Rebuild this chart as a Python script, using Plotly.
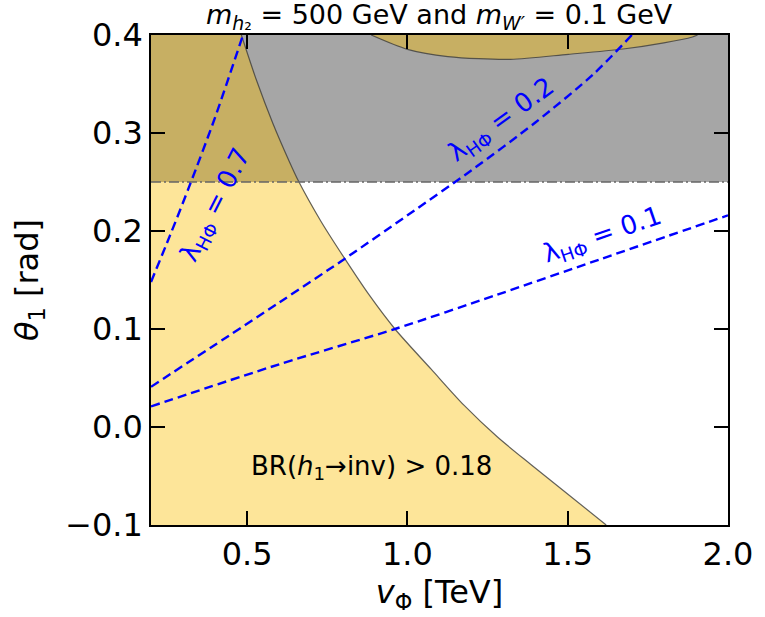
import plotly.graph_objects as go

# Axis ranges
v_range = [0.2, 2.0]
theta_range = [-0.1, 0.4]

# Tick labels
x_ticks = [0.5, 1.0, 1.5, 2.0]
y_ticks = [-0.1, 0.0, 0.1, 0.2, 0.3, 0.4]

# Boundary of the BR(h1 -> inv) > 0.18 region (left part)
br_edge_v = [0.482, 0.53, 0.58, 0.63, 0.66, 0.73, 0.806, 0.88, 0.961,
             1.074, 1.177, 1.28, 1.384, 1.487, 1.62]
br_edge_theta = [0.400, 0.353, 0.310, 0.272, 0.251, 0.210, 0.171, 0.135, 0.100,
                 0.059, 0.022, -0.010, -0.038, -0.065, -0.100]

# Boundary of the BR(h1 -> inv) > 0.18 region (upper arch)
br_arch_v = [0.887, 1.0, 1.126, 1.321, 1.502, 1.673, 1.80, 1.889, 1.905]
br_arch_theta = [0.400, 0.3854, 0.378, 0.3752, 0.3803, 0.3857, 0.392, 0.398, 0.400]

# Excluded mixing angle (dash-dot limit)
theta_limit = 0.25

# Contours of constant lambda_{H Phi}
lam07_v = [0.2, 0.26, 0.32, 0.40, 0.487]
lam07_theta = [0.148, 0.196, 0.246, 0.316, 0.400]

lam02_v = [0.2, 0.6, 0.806, 1.0, 1.2, 1.4, 1.58, 1.70]
lam02_theta = [0.041, 0.127, 0.172, 0.216, 0.262, 0.311, 0.360, 0.400]

lam01_v = [0.2, 0.6, 0.961, 1.28, 1.6, 2.0]
lam01_theta = [0.021, 0.064, 0.100, 0.135, 0.171, 0.216]

GRAY = "#a6a6a6"
YELLOW = "rgba(250,190,0,0.4)"
EDGE = "rgba(60,60,60,0.8)"
BLUE = "#0000ff"
FONT = "DejaVu Sans"

fig = go.Figure()

# Excluded band above the mixing-angle limit
fig.add_trace(go.Scatter(
    x=[v_range[0], v_range[1], v_range[1], v_range[0], v_range[0]],
    y=[theta_limit, theta_limit, theta_range[1], theta_range[1], theta_limit],
    fill="toself", fillcolor=GRAY, mode="none", hoverinfo="skip"))

# BR region, left part
fig.add_trace(go.Scatter(
    x=br_edge_v + [v_range[0], v_range[0]],
    y=br_edge_theta + [theta_range[0], theta_range[1]],
    fill="toself", fillcolor=YELLOW, mode="none", hoverinfo="skip"))

# BR region, upper arch
fig.add_trace(go.Scatter(
    x=br_arch_v, y=br_arch_theta,
    fill="toself", fillcolor=YELLOW, mode="none", line=dict(shape="spline"),
    hoverinfo="skip"))

# Region boundaries
fig.add_trace(go.Scatter(x=br_edge_v, y=br_edge_theta, mode="lines",
                         line=dict(color=EDGE, width=1.2, shape="spline", smoothing=0.8),
                         hoverinfo="skip"))
fig.add_trace(go.Scatter(x=br_arch_v, y=br_arch_theta, mode="lines",
                         line=dict(color=EDGE, width=1.2, shape="spline", smoothing=0.8),
                         hoverinfo="skip"))
fig.add_trace(go.Scatter(x=v_range, y=[theta_limit, theta_limit], mode="lines",
                         line=dict(color="#666666", width=1.5, dash="10px,3px,2px,3px"),
                         hoverinfo="skip"))

# lambda contours
for vs, ths in [(lam07_v, lam07_theta), (lam02_v, lam02_theta), (lam01_v, lam01_theta)]:
    fig.add_trace(go.Scatter(x=vs, y=ths, mode="lines",
                             line=dict(color=BLUE, width=2.4, dash="9px,5px",
                                       shape="spline", smoothing=0.8),
                             hoverinfo="skip"))

lam_labels = [
    ("λ<sub>HΦ</sub> = 0.7", 0.401, 0.2265, -63),
    ("λ<sub>HΦ</sub> = 0.2", 1.293, 0.313, -36),
    ("λ<sub>HΦ</sub> = 0.1", 1.609, 0.195, -19),
]
for txt, ax_, ay_, ang in lam_labels:
    fig.add_annotation(x=ax_, y=ay_, text=txt, showarrow=False, textangle=ang,
                       font=dict(family=FONT, size=26, color=BLUE))

fig.add_annotation(x=0.887, y=-0.041, text="BR(<i>h</i><sub>1</sub>→inv) > 0.18",
                   showarrow=False, font=dict(family=FONT, size=26, color="black"))

fig.add_annotation(x=0.5, y=1, xref="paper", yref="paper", yanchor="bottom", yshift=-1,
                   text="<i>m</i><sub><i>h</i>₂</sub> = 500 GeV and <i>m</i><sub><i>W′</i></sub> = 0.1 GeV",
                   showarrow=False, font=dict(family=FONT, size=27, color="black"))

axis_common = dict(
    showline=True, linecolor="black", linewidth=1.5, mirror="ticks",
    ticks="inside", ticklen=14, tickwidth=1.5, tickcolor="black",
    showgrid=False, zeroline=False,
    tickfont=dict(family=FONT, size=32, color="black"),
)

fig.update_xaxes(range=v_range, tickvals=x_ticks, tickformat=".1f",
                 title=dict(text="<i>v</i><sub>Φ</sub> [TeV]",
                            font=dict(family=FONT, size=32, color="black"), standoff=8),
                 **axis_common)
fig.update_yaxes(range=theta_range, tickvals=y_ticks, tickformat=".1f",
                 title=dict(text="<i>θ</i><sub>1</sub> [rad]",
                            font=dict(family=FONT, size=32, color="black"), standoff=17),
                 **axis_common)

fig.update_layout(
    width=765, height=617,
    margin=dict(l=151, r=32, t=35, b=92),
    paper_bgcolor="white", plot_bgcolor="white",
    showlegend=False,
)

fig.write_html("out.html")
